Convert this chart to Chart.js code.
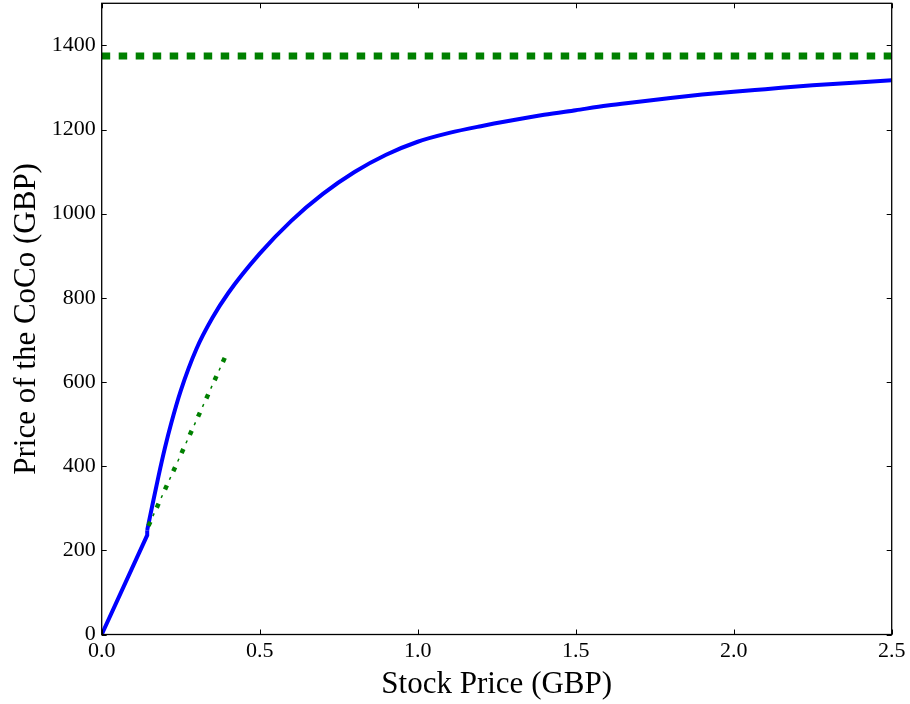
<!DOCTYPE html>
<html lang="en">
<head>
  <meta charset="UTF-8">
  <title>CoCo Price vs Stock Price</title>
  <script src="https://cdn.jsdelivr.net/npm/chart.js"></script>
  <style>
    html, body { margin: 0; padding: 0; background: #fff; }
    #wrap { width: 910px; height: 704px; }
  </style>
</head>
<body>
<div id="wrap"><canvas id="chart" width="910" height="704"></canvas></div>

<script>
  // values
  const linStock = [0, 0.144, 0.144];
  const linCoco  = [0, 236, 248];

  const curveStock = [0.144, 0.16, 0.18, 0.2, 0.22, 0.25, 0.3, 0.35, 0.4, 0.5, 0.6, 0.7, 0.8, 0.9,
                      1.0, 1.1, 1.2, 1.3, 1.4, 1.5, 1.6, 1.7, 1.8, 1.9, 2.0, 2.1, 2.25, 2.5];
  const curveCoco  = [248, 306, 377, 443, 502, 579, 679, 752, 811, 905, 983, 1047, 1099, 1140,
                      1171, 1192, 1208, 1222, 1235, 1246, 1257, 1266, 1275, 1283, 1290, 1296, 1305, 1317];

  const capStock = [0, 2.5];
  const capCoco  = [1375, 1375];

  const tangStock = [0.148, 0.397];
  const tangCoco  = [258, 670];

  const xTicks = [0, 0.5, 1.0, 1.5, 2.0, 2.5];
  const yTicks = [0, 200, 400, 600, 800, 1000, 1200, 1400];

  const pts = (xs, ys) => xs.map((x, i) => ({ x: x, y: ys[i] }));

  const serif = "'Liberation Serif', 'Times New Roman', serif";

  // matplotlib-ish frame with inward ticks on all sides
  const frame = {
    id: 'frame',
    afterDraw(chart) {
      const { ctx, chartArea: a, scales } = chart;
      ctx.save();
      ctx.strokeStyle = '#000';
      ctx.lineWidth = 1;
      ctx.beginPath();
      xTicks.forEach(v => {
        const px = Math.round(scales.x.getPixelForValue(v)) + 0.5;
        ctx.moveTo(px, a.bottom); ctx.lineTo(px, a.bottom - 5);
        ctx.moveTo(px, a.top); ctx.lineTo(px, a.top + 5);
      });
      yTicks.forEach(v => {
        const py = Math.round(scales.y.getPixelForValue(v)) + 0.5;
        ctx.moveTo(a.left, py); ctx.lineTo(a.left + 5, py);
        ctx.moveTo(a.right, py); ctx.lineTo(a.right - 5, py);
      });
      ctx.stroke();
      ctx.lineWidth = 1.3;
      ctx.strokeRect(a.left, a.top, a.right - a.left, a.bottom - a.top);
      ctx.restore();
    }
  };

  new Chart(document.getElementById('chart'), {
    type: 'line',
    data: {
      datasets: [
        {
          data: pts(capStock, capCoco),
          borderColor: '#008000',
          borderWidth: 7,
          borderDash: [8.5, 8.5],
          borderCapStyle: 'butt',
          pointRadius: 0
        },
        {
          data: pts(tangStock, tangCoco),
          borderColor: '#008000',
          borderWidth: 4.5,
          borderDash: [4.5, 15.5],
          borderCapStyle: 'butt',
          pointRadius: 0
        },
        {
          data: pts(tangStock, tangCoco),
          borderColor: '#008000',
          borderWidth: 1.5,
          borderDash: [3, 17],
          borderDashOffset: 9.25,
          borderCapStyle: 'butt',
          pointRadius: 0
        },
        {
          data: pts(linStock, linCoco),
          borderColor: '#0000ff',
          borderWidth: 4,
          tension: 0,
          pointRadius: 0
        },
        {
          data: pts(curveStock, curveCoco),
          borderColor: '#0000ff',
          borderWidth: 4,
          cubicInterpolationMode: 'monotone',
          pointRadius: 0
        }
      ]
    },
    options: {
      responsive: false,
      animation: false,
      layout: { padding: { top: 3.3, right: 18.3, left: 0, bottom: 0 } },
      plugins: {
        legend: { display: false },
        tooltip: { enabled: false }
      },
      scales: {
        x: {
          type: 'linear',
          min: 0,
          max: 2.5,
          grid: { display: false, drawTicks: false },
          border: { display: false },
          afterFit: s => { s.height = 69.5; s.paddingLeft = 0; s.paddingRight = 0; },
          afterBuildTicks: s => { s.ticks = xTicks.map(v => ({ value: v })); },
          ticks: {
            padding: 4,
            color: '#000',
            font: { family: serif, size: 22 },
            callback: v => Number(v).toFixed(1)
          },
          title: {
            display: true,
            text: 'Stock Price (GBP)',
            color: '#000',
            font: { family: serif, size: 31 },
            padding: { top: 0, bottom: 1 }
          }
        },
        y: {
          min: 0,
          max: 1500,
          grid: { display: false, drawTicks: false },
          border: { display: false },
          afterFit: s => { s.width = 101.7; s.paddingTop = 0; s.paddingBottom = 0; },
          afterBuildTicks: s => { s.ticks = yTicks.map(v => ({ value: v })); },
          ticks: {
            padding: 6,
            color: '#000',
            font: { family: serif, size: 22 },
            callback: v => String(v)
          },
          title: {
            display: true,
            text: 'Price of the CoCo (GBP)',
            color: '#000',
            font: { family: serif, size: 31 },
            padding: { top: 8, bottom: 0 }
          }
        }
      }
    },
    plugins: [frame]
  });
</script>
</body>
</html>
